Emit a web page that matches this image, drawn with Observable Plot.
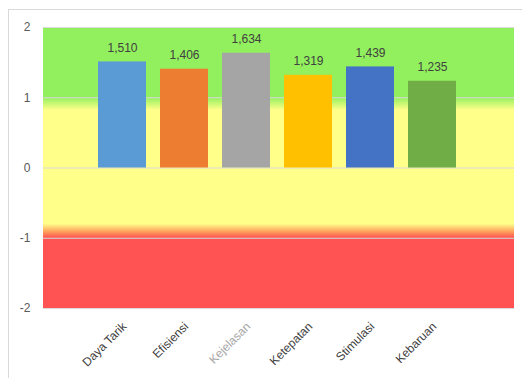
<!DOCTYPE html>
<html>
<head>
<meta charset="utf-8">
<script src="https://cdn.jsdelivr.net/npm/d3@7"></script>
<script src="https://cdn.jsdelivr.net/npm/@observablehq/plot@0.6"></script>
<style>
  html, body { margin: 0; padding: 0; background: #fff; overflow: hidden; }
  #wrap { position: relative; width: 522px; height: 378px; overflow: hidden; }
  #border { position: absolute; left: 8px; top: 9px; width: 540px; height: 400px; border: 1px solid #d9d9d9; box-sizing: border-box; }
  #chart { position: absolute; left: 0; top: 0; }
</style>
</head>
<body>
<div id="wrap"><div id="border"></div><div id="chart"></div></div>
<script>
const categories = ["Daya Tarik", "Efisiensi", "Kejelasan", "Ketepatan", "Stimulasi", "Kebaruan"];
const values = [1.510, 1.406, 1.634, 1.319, 1.439, 1.235];
const barColors = ["#5B9BD5", "#ED7D31", "#A5A5A5", "#FFC000", "#4472C4", "#70AD47"];
const yTicks = [-2, -1, 0, 1, 2];
// background zones (value -> colour), stops of the vertical gradient
const bgStops = [
  {v: 2, color: "#92F05E"},
  {v: 1, color: "#92F05E"},
  {v: 0.82, color: "#FFFF8A"},
  {v: -0.80, color: "#FFFF8A"},
  {v: -0.92, color: "#FF9A5A"},
  {v: -1, color: "#FF5252"},
  {v: -2, color: "#FF5252"}
];

const data = categories.map((c, i) => ({cat: c, value: values[i], color: barColors[i]}));
const fmt = v => v.toFixed(3).replace(".", ",");

const chart = Plot.plot({
  width: 522,
  height: 378,
  marginLeft: 43,
  marginRight: 8,
  marginTop: 27,
  marginBottom: 70,
  style: {fontFamily: "'Liberation Sans', Arial, sans-serif", fontSize: "12px", background: "transparent"},
  x: {domain: categories, range: [89, 464], paddingInner: 0.23, paddingOuter: 0.115, label: null},
  y: {domain: [-2, 2], label: null},
  marks: [
    Plot.rect([{y1: -2, y2: 2}], {y1: "y1", y2: "y2", fill: "url(#bgGrad)"}),
    Plot.ruleY(yTicks, {stroke: "#d9d9d9", strokeWidth: 1}),
    Plot.barY(data, {x: "cat", y: "value", fill: "color"}),
    Plot.text(data, {x: "cat", y: "value", text: d => fmt(d.value), lineAnchor: "bottom", dy: -10, fill: "#404040", fontSize: 12}),
    Plot.axisY({ticks: yTicks, tickSize: 0, tickPadding: 13, tickFormat: d => String(d), fill: "#595959", fontSize: 12}),
    Plot.axisX({tickSize: 0, tickRotate: -45, tickPadding: 16, dx: 2, fontSize: 12,
      fill: d => d === "Kejelasan" ? "#a6a6a6" : "#404040"})
  ]
});

// gradient defs from bgStops
const ns = "http://www.w3.org/2000/svg";
const defs = document.createElementNS(ns, "defs");
const grad = document.createElementNS(ns, "linearGradient");
grad.setAttribute("id", "bgGrad");
grad.setAttribute("x1", "0"); grad.setAttribute("x2", "0");
grad.setAttribute("y1", "0"); grad.setAttribute("y2", "1");
bgStops.forEach(s => {
  const st = document.createElementNS(ns, "stop");
  st.setAttribute("offset", ((2 - s.v) / 4).toFixed(4));
  st.setAttribute("stop-color", s.color);
  grad.appendChild(st);
});
defs.appendChild(grad);
chart.insertBefore(defs, chart.firstChild);

document.getElementById("chart").appendChild(chart);
</script>
</body>
</html>
